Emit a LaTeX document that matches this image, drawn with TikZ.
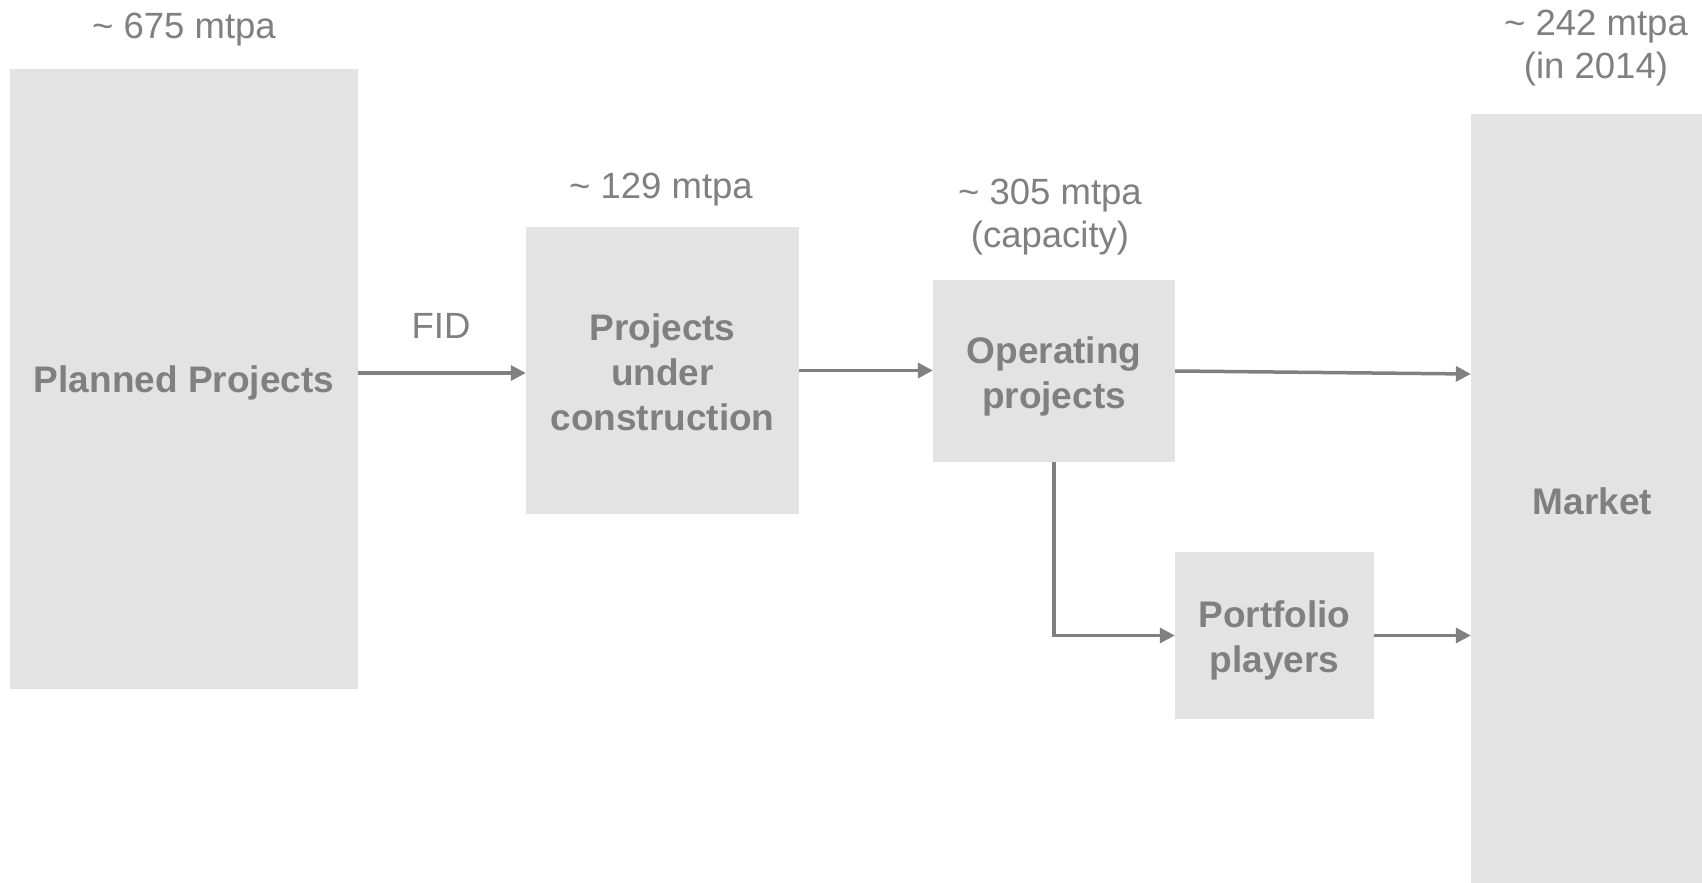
\documentclass[tikz,border=0pt]{standalone}
\usepackage{fontspec}
\setmainfont{Liberation Sans}
\usetikzlibrary{arrows.meta}
\definecolor{boxfill}{RGB}{227,227,227}
\definecolor{ink}{RGB}{128,128,128}
\newcommand{\lift}[1]{\rule{0pt}{#1}}
\begin{document}
\begin{tikzpicture}[x=1pt,y=-1pt,
  box/.style={fill=boxfill, draw=none, inner sep=0pt, align=center, text=ink,
    font=\fontsize{37}{45}\selectfont\bfseries},
  lbl/.style={text=ink, inner sep=0pt, align=center,
    font=\fontsize{36.5}{43}\selectfont},
  flow/.style={draw=ink, line width=3.5pt, -{Triangle[length=15pt,width=15pt]}}]
\useasboundingbox[fill=white] (0,0) rectangle (1702,883);
% boxes
\node[box, minimum width=348pt, minimum height=620pt] (planned) at (184,379) {\lift{35pt}Planned Projects};
\node[box, minimum width=273pt, minimum height=287pt] (puc) at (662.5,370.5) {\lift{31pt}Projects\\under\\construction};
\node[box, minimum width=242pt, minimum height=182pt] (op) at (1054,371) {\lift{38pt}Operating\\projects};
\node[box, minimum width=199pt, minimum height=167pt] (port) at (1274.5,635.5) {\lift{36pt}Portfolio\\players};
\node[box, minimum width=243pt, minimum height=769pt] (market) at (1592.5,498.5) {\lift{33pt}Market};
% labels
\node[lbl, anchor=base] (l675) at (184,39) {\textasciitilde{} 675 mtpa};
\node[lbl, anchor=base] (l129) at (661,198) {\textasciitilde{} 129 mtpa};
\node[lbl] (l305) at (1050,217) {\textasciitilde{} 305 mtpa\\(capacity)};
\node[lbl, anchor=base] (fid) at (441,338) {FID};
\node[lbl] (l242) at (1596,48) {\textasciitilde{} 242 mtpa\\(in 2014)};
% connectors
\draw[flow] ([yshift=-2.5pt]puc.west -| planned.east) -- ([yshift=-2.5pt]puc.west);
\draw[flow] (puc.east) -- (puc.east -| op.west);
\draw[flow] (op.east) -- ([yshift=-3pt]op.east -| market.west);
\draw[flow] (op.south) |- (port.west);
\draw[flow] (port.east) -- (port.east -| market.west);
\end{tikzpicture}
\end{document}
